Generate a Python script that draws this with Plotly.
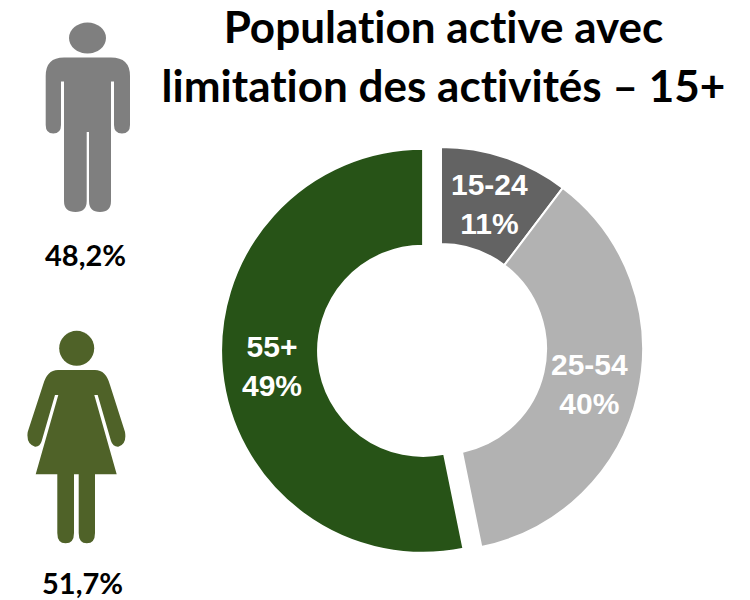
import plotly.graph_objects as go

# Age groups and printed shares
age_groups = ["15-24", "25-54", "55+"]
printed_shares = ["11%", "40%", "49%"]
# Arc sizes as measured on the picture (the drawn arcs differ a little from the printed shares)
arc_sizes = [10.3, 36.5, 53.2]
slice_colors = ["#636363", "#B2B2B2", "#275317"]
slice_pull = [0, 0, 0.089]
label_pos = [(489.5, 204), (589, 383.5), (272, 365.5)]

title_lines = ["Population active avec", "limitation des activités – 15+"]
gender_shares = ["48,2%", "51,7%"]

SANS = "Lato, 'Liberation Sans', sans-serif"
ARIAL = "'Liberation Sans', Arial, sans-serif"

fig = go.Figure(go.Pie(
    values=arc_sizes,
    labels=age_groups,
    sort=False,
    direction="clockwise",
    rotation=0,
    hole=0.52,
    pull=slice_pull,
    textinfo="none",
    showlegend=False,
    marker=dict(colors=slice_colors, line=dict(color="white", width=2)),
    domain=dict(x=[221/750, 661/750], y=[1-569/600, 1-129/600]),
))

man = ("M64 57.5 L111 57.5 Q130 57.5 130 76 L130 125 Q130 133.5 122 133.5 Q114 133.5 114 125 "
       "L114 81.5 L111 81.5 L111 201 Q111 212 100 212 Q89 212 89 201 L89 132 L86.7 132 L86.7 201 "
       "Q86.7 212 75.5 212 Q64 212 64 201 L64 81.5 L61 81.5 L61 125 Q61 133.5 53.3 133.5 "
       "Q45.7 133.5 45.7 125 L45.7 76 Q45.7 57.5 64 57.5 Z")
woman = ("M58 370 L95 370 Q106 370 110 385 L125 432 Q127 444 118.3 446.7 Q113 447 111 441 "
         "L97.7 395 L94.3 395 L116.7 474.3 L95 474.3 L95 533 Q95 543.3 86.8 543.3 Q78.7 543.3 78.7 533 "
         "L78.7 474.3 L74 474.3 L74 533 Q74 543.3 65.6 543.3 Q57.3 543.3 57.3 533 L57.3 474.3 "
         "L35.7 474.3 L58.3 395 L55 395 L41.7 441 Q40 447 35 446.7 Q26 444 27.7 432 L43 385 Q47 370 58 370 Z")
shapes = [
    dict(type="circle", xref="x", yref="y", x0=69, x1=106, y0=22.5, y1=53.5,
         fillcolor="#7F7F7F", line_width=0),
    dict(type="path", xref="x", yref="y", path=man, fillcolor="#7F7F7F", line_width=0),
    dict(type="circle", xref="x", yref="y", x0=59.2, x1=94.2, y0=330.8, y1=365.8,
         fillcolor="#4F6228", line_width=0),
    dict(type="path", xref="x", yref="y", path=woman, fillcolor="#4F6228", line_width=0),
]

annotations = []
for (x, y), age, share in zip(label_pos, age_groups, printed_shares):
    annotations.append(dict(x=x, y=y, xref="x", yref="y", showarrow=False,
                            text=f"<b>{age}<br>{share}</b>",
                            font=dict(family=ARIAL, size=30, color="white")))
for y, line in zip([25.5, 85], title_lines):
    annotations.append(dict(x=443, y=y, xref="x", yref="y", showarrow=False,
                            text=f"<b>{line}</b>",
                            font=dict(family=SANS, size=44, color="black")))
for (x, y), share in zip([(85, 254), (82, 582.5)], gender_shares):
    annotations.append(dict(x=x, y=y, xref="x", yref="y", showarrow=False,
                            text=f"<b>{share}</b>",
                            font=dict(family=SANS, size=29, color="black")))

fig.update_layout(
    width=750, height=600,
    margin=dict(l=0, r=0, t=0, b=0),
    paper_bgcolor="white", plot_bgcolor="rgba(0,0,0,0)",
    xaxis=dict(range=[0, 750], visible=False, domain=[0, 1], fixedrange=True),
    yaxis=dict(range=[600, 0], visible=False, domain=[0, 1], fixedrange=True),
    shapes=shapes,
    annotations=annotations,
)
fig.write_html(
    "out.html",
    config={"displayModeBar": False},
    post_script=(
        "document.body.style.margin='0';"
        "var s=document.createElement('style');"
        "s.textContent='svg text,svg tspan{font-variant-ligatures:none !important;"
        "font-feature-settings:\"liga\" 0,\"clig\" 0,\"dlig\" 0 !important;"
        "letter-spacing:0.01px !important}';"
        "document.head.appendChild(s);"
    ),
)
